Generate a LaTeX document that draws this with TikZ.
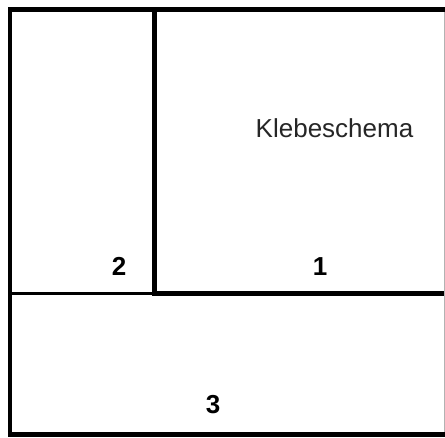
\documentclass[tikz,border=0pt]{standalone}
\usepackage{fontspec}
\setmainfont{Liberation Sans}
\begin{document}
\begin{tikzpicture}[x=1pt,y=-1pt,
  thickline/.style={line width=4.5pt,black},
  thinline/.style={line width=2.2pt,black},
  lbl/.style={inner sep=0pt,anchor=base,font=\fontsize{26}{29}\selectfont\bfseries},
  title/.style={inner sep=0pt,anchor=base,font=\fontsize{26}{29}\selectfont,text=black!85}]
\useasboundingbox (0,0) rectangle (445,437);
\fill[white] (0,0) rectangle (445,437);
% corners
\coordinate (tl) at (10,9.5);
\coordinate (tr) at (448,9.5);
\coordinate (bl) at (10,434.5);
\coordinate (br) at (448,434.5);
\coordinate (vt) at (154.5,9.5);
\coordinate (vb) at (154.5,293.5);
\coordinate (ml) at (10,293.5);
\coordinate (mr) at (448,293.5);
\draw[thickline] (tr) -- (tl) -- (bl) -- (br);
\draw[thickline] (vt) -- (vb);
\draw[thickline] (152.3,293.5) -- (mr);
\draw[thinline] (ml) -- (vb);
\draw[black!30,line width=0.8pt] (444.2,12) -- (444.2,432);
\node[title] (k) at (334.5,137.5) {Klebeschema};
\node[lbl] (n1) at (320,275) {1};
\node[lbl] (n2) at (119,275) {2};
\node[lbl] (n3) at (213,413) {3};
\end{tikzpicture}
\end{document}
